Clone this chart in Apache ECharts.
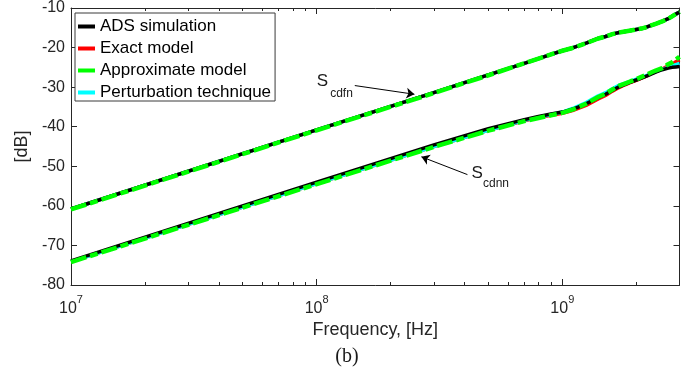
<!DOCTYPE html>
<html><head><meta charset="utf-8">
<script src="https://cdn.jsdelivr.net/npm/echarts@6/dist/echarts.min.js"></script>
<style>html,body{margin:0;padding:0;background:#fff}#c{width:700px;height:374px}</style>
</head><body><div id="c"></div>
<script>
// ---- data ----
const freqHz = [1e7, 1e8, 3e8, 5e8, 7e8, 8e8, 9e8, 1e9, 1.1e9, 1.25e9, 1.4e9, 1.5e9, 1.6e9, 1.7e9, 1.8e9, 1.9e9, 2e9, 2.1e9, 2.2e9, 2.3e9, 2.4e9, 2.55e9, 2.7e9, 2.8e9, 2.9e9, 3e9];

// S_cdfn (upper curve), dB
const cdfnADS    = [-60.8,-40.8,-31.4,-26.9,-24.0,-22.8,-21.7,-20.8,-20.1,-18.9,-17.7,-17.2,-16.6,-16.2,-15.95,-15.7,-15.45,-15.2,-14.85,-14.4,-14.0,-13.4,-12.7,-12.1,-11.55,-11.0];
const cdfnExact  = [-60.8,-40.8,-31.4,-26.9,-24.0,-22.8,-21.7,-20.8,-20.1,-18.9,-17.7,-17.2,-16.6,-16.2,-15.95,-15.7,-15.45,-15.2,-14.85,-14.4,-14.0,-13.4,-12.7,-12.1,-11.55,-11.0];
const cdfnApprox = [-60.9,-40.9,-31.5,-27.0,-24.0,-22.8,-21.7,-20.8,-20.1,-18.9,-17.7,-17.2,-16.6,-16.2,-15.95,-15.7,-15.45,-15.2,-14.85,-14.4,-14.0,-13.4,-12.7,-12.1,-11.5,-10.9];
const cdfnPert   = [-60.8,-40.8,-31.4,-26.9,-24.0,-22.8,-21.7,-20.8,-20.1,-18.9,-17.7,-17.2,-16.6,-16.2,-15.95,-15.7,-15.45,-15.2,-14.85,-14.4,-14.0,-13.4,-12.7,-12.1,-11.55,-11.0];

// S_cdnn (lower curve), dB
const cdnnADS    = [-73.9,-54.0,-44.6,-40.5,-38.2,-37.4,-36.8,-36.3,-35.6,-34.2,-32.6,-31.8,-30.8,-29.9,-29.3,-28.7,-28.2,-27.7,-27.2,-26.7,-26.2,-25.6,-25.2,-25.0,-24.9,-24.8];
const cdnnExact  = [-74.1,-54.4,-45.0,-40.9,-38.5,-37.7,-37.1,-36.6,-35.9,-34.6,-33.0,-32.1,-31.0,-30.1,-29.4,-28.8,-28.3,-27.7,-27.2,-26.6,-26.1,-25.4,-24.6,-24.2,-23.6,-23.1];
const cdnnApprox = [-74.2,-54.5,-45.1,-41.0,-38.6,-37.8,-37.1,-36.5,-35.7,-34.2,-32.5,-31.7,-30.6,-29.7,-29.1,-28.5,-28.0,-27.4,-26.9,-26.3,-25.8,-25.2,-24.2,-23.7,-23.0,-22.3];
const cdnnPert   = [-74.1,-54.4,-45.0,-40.9,-38.4,-37.6,-36.9,-36.3,-35.4,-33.9,-32.2,-31.4,-30.4,-29.5,-29.0,-28.5,-28.0,-27.5,-27.1,-26.6,-26.1,-25.5,-25.0,-24.6,-24.3,-24.0];

const seriesNames = ['ADS simulation', 'Exact model', 'Approximate model', 'Perturbation technique'];
const xMajorTicks = [1e7, 1e8, 1e9];
const xMinorTicks = [2e7,3e7,4e7,5e7,6e7,7e7,8e7,9e7,2e8,3e8,4e8,5e8,6e8,7e8,8e8,9e8,2e9,3e9];
const yMin = -80, yMax = -10, yStep = 10;
const xMin = 1e7, xMax = 3e9;

// annotations: [freq, dB] anchors
const annCdfnArrow = [[1.43e8, -29.6], [2.5e8, -31.8]];
const annCdnnArrow = [[4.11e8, -52.1], [2.67e8, -47.6]];
const annCdfnText = [1.0e8, -28.6];
const annCdnnText = [4.27e8, -51.8];

// ---- chart ----
const FONT = '"Liberation Sans", Arial, sans-serif';
const TXT = '#262626';
const chart = echarts.init(document.getElementById('c'), null, {renderer: 'canvas'});

function pts(arr) { return freqHz.map((f, i) => [f, arr[i]]); }
function mk(name, arr, color, width, dash, extra) {
  return Object.assign({
    type: 'line', name: name, data: pts(arr), xAxisIndex: 0, yAxisIndex: 0,
    symbol: 'none', showSymbol: false, smooth: false,
    lineStyle: {color: color, width: width, type: dash, cap: 'butt', join: 'round'},
    itemStyle: {color: color}, silent: true, animation: false
  }, extra || {});
}

const tickCommon = {lineStyle: {color: TXT, width: 1}, inside: true};
function xAx(position, ticks, len, showLine, label) {
  return {
    type: 'log', logBase: 10, min: xMin, max: xMax, position: position,
    axisLine: {show: showLine, onZero: false, lineStyle: {color: TXT, width: 1}},
    axisTick: Object.assign({show: true, length: len, customValues: ticks}, tickCommon),
    axisLabel: label || {show: false},
    splitLine: {show: false}, minorTick: {show: false}
  };
}

const xLabel = {
  show: true, customValues: xMajorTicks, margin: 9.5,
  formatter: v => '{b|10}{e|' + Math.round(Math.log10(v)) + '}',
  rich: {
    b: {fontSize: 16, fontFamily: FONT, color: TXT, lineHeight: 22, verticalAlign: 'bottom'},
    e: {fontSize: 11, fontFamily: FONT, color: TXT, lineHeight: 11, verticalAlign: 'top'}
  }
};

const xAxes = [
  Object.assign(xAx('bottom', xMajorTicks, 6, true, xLabel), {
    name: 'Frequency, [Hz]', nameLocation: 'middle', nameGap: 33,
    nameTextStyle: {fontSize: 18, fontFamily: FONT, color: TXT}
  }),
  xAx('bottom', xMinorTicks, 3, false),
  xAx('top', xMajorTicks, 6, true),
  xAx('top', xMinorTicks, 3, false)
];

const yAxes = [
  {
    type: 'value', min: yMin, max: yMax, interval: yStep, position: 'left',
    axisLine: {show: true, onZero: false, lineStyle: {color: TXT, width: 1}},
    axisTick: Object.assign({show: true, length: 6}, tickCommon),
    axisLabel: {show: true, margin: 6, fontSize: 16, fontFamily: FONT, color: TXT},
    splitLine: {show: false},
    name: '[dB]', nameLocation: 'middle', nameGap: 39, nameRotate: 90,
    nameTextStyle: {fontSize: 18, fontFamily: FONT, color: TXT}
  },
  {
    type: 'value', min: yMin, max: yMax, interval: yStep, position: 'right',
    axisLine: {show: true, onZero: false, lineStyle: {color: TXT, width: 1}},
    axisTick: Object.assign({show: true, length: 6}, tickCommon),
    axisLabel: {show: false}, splitLine: {show: false}
  }
];

const arrowML = {
  silent: true, symbol: ['none', 'arrow'], symbolSize: 8,
  label: {show: false}, emphasis: {disabled: true},
  lineStyle: {color: '#000', width: 1, type: 'solid'},
  data: [
    [{coord: annCdfnArrow[0]}, {coord: annCdfnArrow[1]}],
    [{coord: annCdnnArrow[0]}, {coord: annCdnnArrow[1]}]
  ]
};

const RED = '#ff0000', CYAN = '#00ffff', BLACK = '#000000', GREEN = '#00ff00';
const option = {
  animation: false,
  backgroundColor: '#ffffff',
  grid: {left: 71, right: 20.5, top: 6, bottom: 89, containLabel: false},
  xAxis: xAxes,
  yAxis: yAxes,
  legend: {
    data: seriesNames, orient: 'vertical', left: 75, top: 13,
    icon: 'rect', itemWidth: 17, itemHeight: 4, itemGap: 5, itemTextGap: 2,
    padding: [5, 4, 0, 3],
    backgroundColor: '#ffffff', borderColor: '#3a3a3a', borderWidth: 1, borderRadius: 0,
    textStyle: {fontSize: 17, fontFamily: FONT, color: '#000', lineHeight: 17},
    lineStyle: {width: 4, type: 'solid'},
    selectedMode: false
  },
  series: [
    mk(seriesNames[1], cdfnExact, RED, 3.5, 'solid'),
    mk(seriesNames[1], cdnnExact, RED, 3.5, 'solid'),
    mk(seriesNames[3], cdfnPert, CYAN, 3.5, 'solid'),
    mk(seriesNames[3], cdnnPert, CYAN, 3.5, 'solid'),
    mk(seriesNames[0], cdfnADS, BLACK, 3.5, 'solid'),
    mk(seriesNames[0], cdnnADS, BLACK, 3.5, 'solid'),
    mk(seriesNames[2], cdfnApprox, GREEN, 4.5, [16, 4, 8, 4]),
    mk(seriesNames[2], cdnnApprox, GREEN, 4.5, [16, 4, 8, 4], {markLine: arrowML})
  ]
};
chart.setOption(option);

function px(p) { return chart.convertToPixel({xAxisIndex: 0, yAxisIndex: 0}, p); }
const t1 = px(annCdfnText), t2 = px(annCdnnText);
function txt(x, y, s, size, font, align) {
  return {type: 'text', x: x, y: y, silent: true,
    style: {text: s, fontSize: size, fontFamily: font || FONT, fill: '#1a1a1a', align: align || 'left', verticalAlign: 'middle'}};
}
chart.setOption({
  graphic: [
    txt(t1[0], t1[1], 'S', 17),
    txt(t1[0] + 13.5, t1[1] + 12, 'cdfn', 12),
    txt(t2[0], t2[1], 'S', 17),
    txt(t2[0] + 11.5, t2[1] + 10, 'cdnn', 12),
    txt(347, 357, '(b)', 20, '"Liberation Serif", "Times New Roman", serif', 'center')
  ]
});
</script>
</body></html>
